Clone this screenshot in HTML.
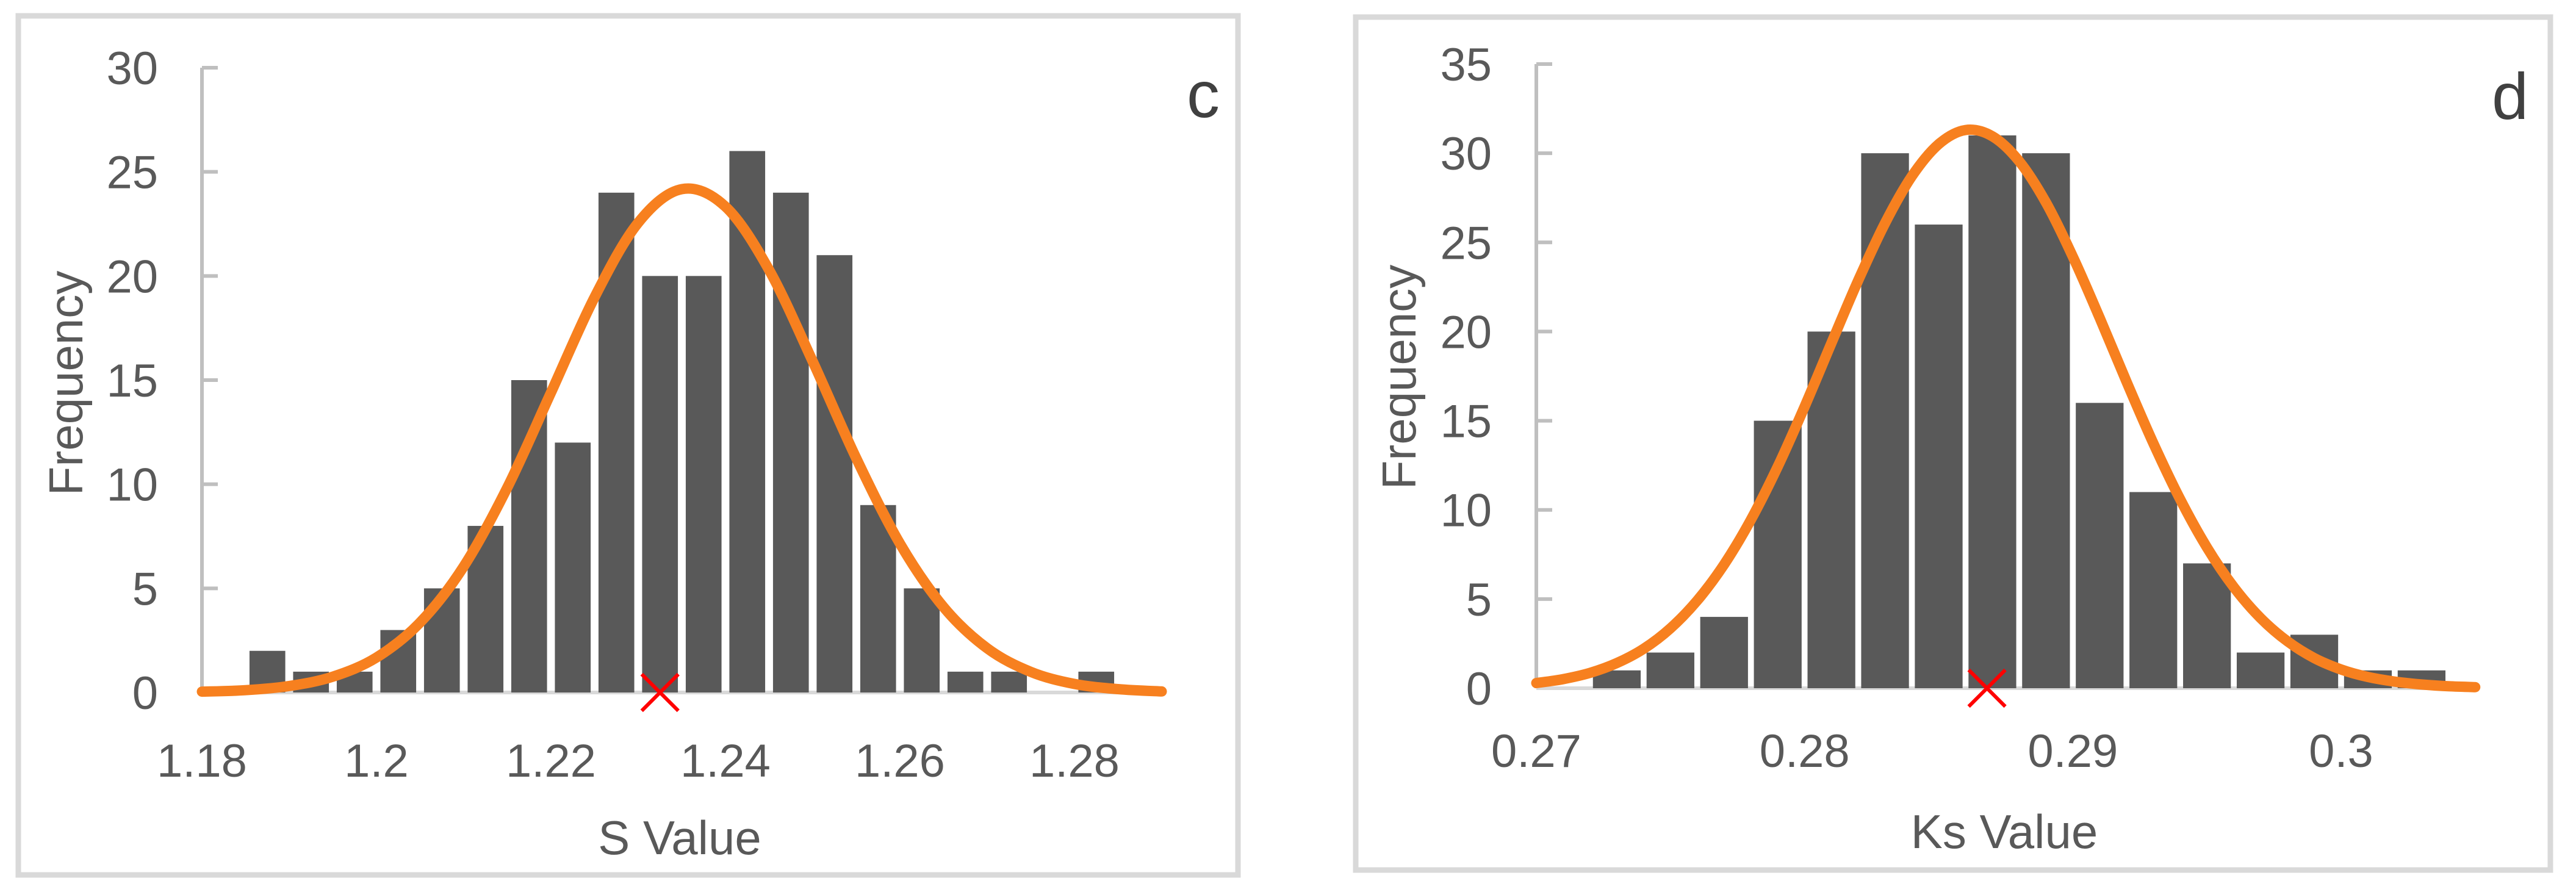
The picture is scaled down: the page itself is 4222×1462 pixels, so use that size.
<!DOCTYPE html>
<html><head><meta charset="utf-8"><style>
html,body{margin:0;padding:0;background:#fff;}
svg{display:block;font-family:"Liberation Sans",sans-serif;}
</style></head><body>
<svg id="chart" width="4222" height="1462" viewBox="0 0 4222 1462" xmlns="http://www.w3.org/2000/svg">
<rect x="30" y="26" width="1999" height="1408" fill="#fff" stroke="#d9d9d9" stroke-width="9"/>
<rect x="2222" y="28" width="1958" height="1398" fill="#fff" stroke="#d9d9d9" stroke-width="9"/>
<g id="pc"></g>
<g id="pd"></g>
</svg>
<script>
// Panel c data
const cBinCenters = [1.1875,1.1925,1.1975,1.2025,1.2075,1.2125,1.2175,1.2225,1.2275,1.2325,1.2375,1.2425,1.2475,1.2525,1.2575,1.2625,1.2675,1.2725,1.2775,1.2825];
const cCounts = [2,1,1,3,5,8,15,12,24,20,20,26,24,21,9,5,1,1,0,1];
const cCurveX = [1.18,1.185,1.19,1.195,1.2,1.205,1.21,1.215,1.22,1.225,1.23,1.235,1.24,1.245,1.25,1.255,1.26,1.265,1.27,1.275,1.28,1.285,1.29];
const cCurveY = [0.04,0.11,0.31,0.76,1.68,3.36,6.05,9.84,14.4,18.98,22.56,24.17,23.33,20.29,15.9,11.24,7.15,4.1,2.12,0.99,0.41,0.16,0.05];
const cXTicks = [1.18,1.2,1.22,1.24,1.26,1.28];
const cXTickLabels = ["1.18","1.2","1.22","1.24","1.26","1.28"];
const cYTicks = [0,5,10,15,20,25,30];
const cMarker = [1.2325];
// Panel d data
const dBinCenters = [0.273,0.275,0.277,0.279,0.281,0.283,0.285,0.287,0.289,0.291,0.293,0.295,0.297,0.299,0.301,0.303];
const dCounts = [1,2,4,15,20,30,26,31,30,16,11,7,2,3,1,1];
const dCurveX = [0.270,0.271,0.272,0.273,0.274,0.275,0.276,0.277,0.278,0.279,0.280,0.281,0.282,0.283,0.284,0.285,0.286,0.287,0.288,0.289,0.290,0.291,0.292,0.293,0.294,0.295,0.296,0.297,0.298,0.299,0.300,0.301,0.302,0.303,0.304,0.305];
const dCurveY = [0.29,0.51,0.86,1.41,2.21,3.36,4.92,6.94,9.45,12.43,15.79,19.35,22.87,26.08,28.71,30.51,31.3,30.95,29.55,27.23,24.2,20.77,17.19,13.74,10.6,7.89,5.67,3.93,2.63,1.69,1.05,0.63,0.37,0.21,0.11,0.06];
const dXTicks = [0.27,0.28,0.29,0.3];
const dXTickLabels = ["0.27","0.28","0.29","0.3"];
const dYTicks = [0,5,10,15,20,25,30,35];
const dMarker = [0.2868];

const NS="http://www.w3.org/2000/svg";
function mk(parent,tag,attrs){const e=document.createElementNS(NS,tag);for(const k in attrs)e.setAttribute(k,attrs[k]);parent.appendChild(e);return e;}
function smooth(pts){
  let d='M'+pts[0][0].toFixed(1)+','+pts[0][1].toFixed(1);
  for(let i=0;i<pts.length-1;i++){
    const p0=pts[i-1]||pts[i],p1=pts[i],p2=pts[i+1],p3=pts[i+2]||p2;
    const c1=[p1[0]+(p2[0]-p0[0])/6,p1[1]+(p2[1]-p0[1])/6];
    const c2=[p2[0]-(p3[0]-p1[0])/6,p2[1]-(p3[1]-p1[1])/6];
    d+=' C'+c1[0].toFixed(1)+','+c1[1].toFixed(1)+' '+c2[0].toFixed(1)+','+c2[1].toFixed(1)+' '+p2[0].toFixed(1)+','+p2[1].toFixed(1);
  }
  return d;
}

function drawPanel(g,cfg){
  const xs=v=>cfg.px0+(v-cfg.x0)/(cfg.x1-cfg.x0)*(cfg.px1-cfg.px0);
  const ys=v=>cfg.py0-(v/cfg.ymax)*(cfg.py0-cfg.py1);
  const ya=mk(g,'line',{x1:cfg.px0,y1:ys(cfg.ymax),x2:cfg.px0,y2:cfg.py0,stroke:'#bfbfbf','stroke-width':6});
  
  
  cfg.yTicks.forEach(t=>{
    const tk=mk(g,'line',{x1:cfg.px0,y1:ys(t),x2:cfg.px0+26,y2:ys(t),stroke:'#bfbfbf','stroke-width':6});
    
    
    const tl=mk(g,'text',{x:cfg.ylabX,y:ys(t)+27,'text-anchor':'end','font-size':76,fill:'#595959'});
    tl.textContent=String(t);
    
    
  });
  const xa=mk(g,'line',{x1:cfg.px0,y1:cfg.py0,x2:cfg.axEnd,y2:cfg.py0,stroke:'#d9d9d9','stroke-width':6});
  
  
  cfg.xTicks.forEach((t,i)=>{
    const tl=mk(g,'text',{x:xs(t),y:cfg.xlabY,'text-anchor':'middle','font-size':76,fill:'#595959'});
    tl.textContent=cfg.xLabels[i];
    
    
  });
  const bw=cfg.binW*cfg.barFrac;
  cfg.centers.forEach((c,i)=>{
    if(cfg.counts[i]<=0)return;
    const b=mk(g,'rect',{x:xs(c-bw/2),y:ys(cfg.counts[i]),width:xs(c+bw/2)-xs(c-bw/2),height:cfg.py0-ys(cfg.counts[i]),fill:'#595959'});
    
    
  });
  const pts=cfg.cx.map((x,i)=>[xs(x),ys(cfg.cy[i])]);
  const p=mk(g,'path',{d:smooth(pts),fill:'none',stroke:'#f7801f','stroke-width':17,'stroke-linejoin':'round','stroke-linecap':'round'});
  
  
  cfg.marker.forEach(m=>{
    const mx=xs(m),my=cfg.py0,r=30;
    const mg=mk(g,'g',{stroke:'#ff0000','stroke-width':6});
    
    
    mk(mg,'line',{x1:mx-r,y1:my-r,x2:mx+r,y2:my+r});
    mk(mg,'line',{x1:mx-r,y1:my+r,x2:mx+r,y2:my-r});
  });
  const xt=mk(g,'text',{x:cfg.xtX,y:cfg.xtY,'text-anchor':'middle','font-size':78,fill:'#595959'});
  xt.textContent=cfg.xTitle;
  
  
  const yt=mk(g,'text',{x:0,y:0,'text-anchor':'middle','font-size':78,fill:'#595959',transform:'translate('+cfg.ytX+','+cfg.ytY+') rotate(-90)'});
  yt.textContent='Frequency';
  
  
  const lt=mk(g,'text',{x:cfg.letX,y:cfg.letY,'text-anchor':'middle','font-size':108,fill:'#404040'});
  lt.textContent=cfg.letter;
  
  
}

drawPanel(document.getElementById('pc'),{
  px0:331,px1:1761,x0:1.18,x1:1.28,py0:1135,py1:111,ymax:30,axEnd:1904,
  yTicks:cYTicks,xTicks:cXTicks,xLabels:cXTickLabels,centers:cBinCenters,counts:cCounts,
  binW:0.005,barFrac:0.82,cx:cCurveX,cy:cCurveY,marker:cMarker,
  ylabX:259,xlabY:1273,xTitle:'S Value',xtX:1114,xtY:1400,ytX:135,ytY:628,letter:'c',letX:1972,letY:192
});
drawPanel(document.getElementById('pd'),{
  px0:2518,px1:3837,x0:0.27,x1:0.30,py0:1128,py1:105,ymax:35,axEnd:4059,
  yTicks:dYTicks,xTicks:dXTicks,xLabels:dXTickLabels,centers:dBinCenters,counts:dCounts,
  binW:0.002,barFrac:0.89,cx:dCurveX,cy:dCurveY,marker:dMarker,
  ylabX:2445,xlabY:1257,xTitle:'Ks Value',xtX:3285,xtY:1390,ytX:2320,ytY:618,letter:'d',letX:4114,letY:195
});
</script>
</body></html>
